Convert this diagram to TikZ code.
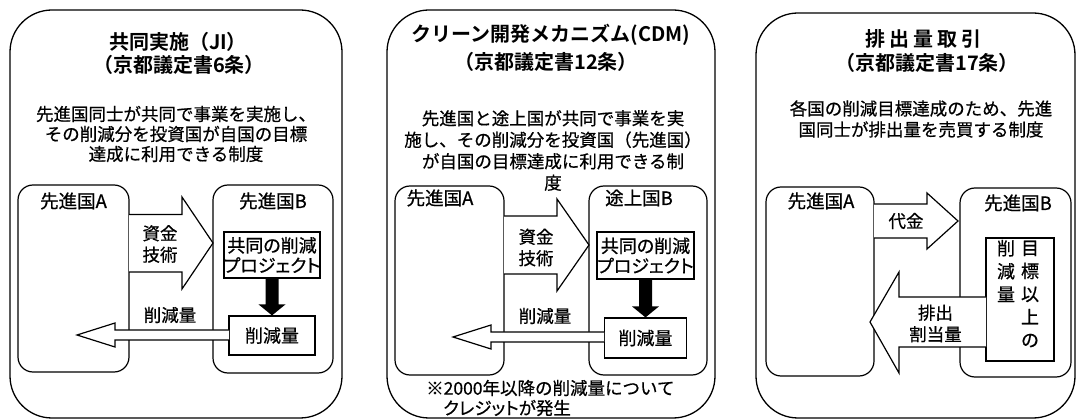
\documentclass[tikz,border=0pt]{standalone}
\usepackage{fontspec}
\setmainfont{Noto Sans CJK JP}[FakeBold=0.6]
\newfontfamily\jpb{Noto Sans CJK JP}[UprightFont={* Bold}]
\newfontfamily\jpp{Noto Sans CJK JP}[RawFeature=+palt, FakeBold=0.6]
\usetikzlibrary{calc}
\begin{document}
\begin{tikzpicture}[x=1pt,y=-1pt,
  outer/.style={draw, line width=1.3pt, rounded corners=42pt, inner sep=0pt},
  cbox/.style={draw, line width=1.2pt, rounded corners=15pt, inner sep=0pt},
  pbox/.style={draw, line width=1.2pt, inner sep=0pt},
  blk/.style={draw, line width=1.2pt, fill=white, line join=miter},
  ttl/.style={font=\fontsize{20}{24}\selectfont\jpb, inner sep=0pt},
  desc/.style={font=\fontsize{17.5}{20}\selectfont, align=center, inner sep=0pt},
  lab/.style={font=\fontsize{18.5}{22}\selectfont, inner sep=0pt},
  txt/.style={font=\fontsize{17.5}{21.5}\selectfont, align=center, inner sep=0pt},
  vtxt/.style={font=\fontsize{18}{23}\selectfont, align=center, inner sep=0pt}
]
\useasboundingbox (0,0) rectangle (1076,419);
\fill[white] (0,0) rectangle (1076,419);

% ---------------- Panel 1 ----------------
\node[outer, minimum width=332pt, minimum height=408pt] (O1) at (176,214) {};
\node[ttl] (T1) at (178,42) {共同実施（JI）};
\node[ttl] (S1) at (179,65) {（京都議定書6条）};
\node[desc] (D1) at (176,134) {先進国同士が共同で事業を実施し、\\その削減分を投資国が自国の目標\\達成に利用できる制度};
\node[cbox, minimum width=111pt, minimum height=187pt] (A1) at (73.5,278.5) {};
\node[cbox, minimum width=120pt, minimum height=188pt] (B1) at (273,279) {};
\node[lab] (LA1) at (73.5,201) {先進国A};
\node[lab] (LB1) at (273,201) {先進国B};
\draw[blk] (129,214.5) -- (182,214.5) -- (182,197) -- (213,243) -- (182,289) -- (182,272) -- (129,272);
\node[txt] (M1) at (160,244) {資金\\技術};
\node[pbox, minimum width=96pt, minimum height=46pt] (P1) at (272,255) {};
\node[txt, font=\fontsize{18}{20}\selectfont\jpp] (PT1) at (P1) {共同の削減\\プロジェクト};
\node[pbox, minimum width=86pt, minimum height=39pt] (R1) at (272,335.5) {};
\node[txt, font=\fontsize{18}{20}\selectfont] (RT1) at (R1) {削減量};
\fill ($(P1.south)+(-6.5,0)$) -- ($(P1.south)+(6.5,0)$) -- ($(R1.north)+(6.5,-11)$) -- ($(R1.north)+(13.5,-11)$) -- (R1.north) -- ($(R1.north)+(-13.5,-11)$) -- ($(R1.north)+(-6.5,-11)$) -- cycle;
\draw[blk] (229,330) -- (115,330) -- (115,323) -- (77,335) -- (115,347) -- (115,340) -- (229,340);
\node[txt] (K1) at (170,315) {削減量};

% ---------------- Panel 2 ----------------
\node[outer, minimum width=328pt, minimum height=408pt] (O2) at (551,214) {};
\node[ttl] (T2) at (551,35) {クリーン開発メカニズム(CDM)};
\node[ttl] (S2) at (546,62) {（京都議定書12条）};
\node[desc, font=\fontsize{17.5}{21.5}\selectfont] (D2) at (553,150.5) {先進国と途上国が共同で事業を実\\施し、その削減分を投資国（先進国）\\が自国の目標達成に利用できる制\\度};
\node[cbox, minimum width=109pt, minimum height=189pt] (A2) at (449.5,280.5) {};
\node[cbox, minimum width=118pt, minimum height=189pt] (B2) at (648,280.5) {};
\node[lab] (LA2) at (440,198) {先進国A};
\node[lab] (LB2) at (639,198) {途上国B};
\draw[blk] (504,216) -- (557,216) -- (557,199) -- (589,245) -- (557,291) -- (557,274) -- (504,274);
\node[txt] (M2) at (536,247.5) {資金\\技術};
\node[pbox, minimum width=97pt, minimum height=47pt] (P2) at (645.5,255.5) {};
\node[txt, font=\fontsize{18}{20}\selectfont\jpp] (PT2) at (P2) {共同の削減\\プロジェクト};
\node[pbox, minimum width=82pt, minimum height=40pt] (R2) at (645.5,338) {};
\node[txt, font=\fontsize{18}{20}\selectfont] (RT2) at (R2) {削減量};
\fill ($(P2.south)+(-6.5,0)$) -- ($(P2.south)+(6.5,0)$) -- ($(R2.north)+(6.5,-11)$) -- ($(R2.north)+(13.5,-11)$) -- (R2.north) -- ($(R2.north)+(-13.5,-11)$) -- ($(R2.north)+(-6.5,-11)$) -- cycle;
\draw[blk] (604,332) -- (491,332) -- (491,325) -- (453,337) -- (491,349) -- (491,342) -- (604,342);
\node[txt] (K2) at (545,316) {削減量};
\node[txt, anchor=west] (F2a) at (426,388) {※2000年以降の削減量について};
\node[txt, anchor=west, font=\fontsize{17.5}{21}\selectfont\jpp] (F2b) at (443,408) {クレジットが発生};

% ---------------- Panel 3 ----------------
\node[outer, minimum width=319pt, minimum height=405pt] (O3) at (915.5,215.5) {};
\node[ttl] (T3) at (923,39) {排\hspace{4pt}出\hspace{4pt}量\hspace{4pt}取\hspace{4pt}引};
\node[ttl] (S3) at (927,63) {（京都議定書17条）};
\node[desc, font=\fontsize{17.5}{21}\selectfont] (D3) at (921,119) {各国の削減目標達成のため、先進\\国同士が排出量を売買する制度};
\node[cbox, minimum width=108pt, minimum height=189pt] (A3) at (820,281.5) {};
\node[cbox, minimum width=111pt, minimum height=189pt] (B3) at (1015.5,282.5) {};
\node[lab] (LA3) at (821,201) {先進国A};
\node[lab] (LB3) at (1018,203) {先進国B};
\draw[blk] (874,204) -- (927,204) -- (927,193) -- (958,221) -- (927,249) -- (927,238) -- (874,238);
\node[txt] (M3) at (906,221) {代金};
\node[pbox, minimum width=68pt, minimum height=123pt] (G3) at (1020,299.5) {};
\draw[blk] (986,297) -- (899,297) -- (899,272) -- (870,322) -- (899,373) -- (899,347) -- (986,347);
\node[txt] (E3) at (935.5,323.5) {排出\\割当量};
\node[vtxt] (V3a) at (1030,294) {目\\標\\以\\上\\の};
\node[vtxt] (V3b) at (1006,271) {削\\減\\量};
\end{tikzpicture}
\end{document}
